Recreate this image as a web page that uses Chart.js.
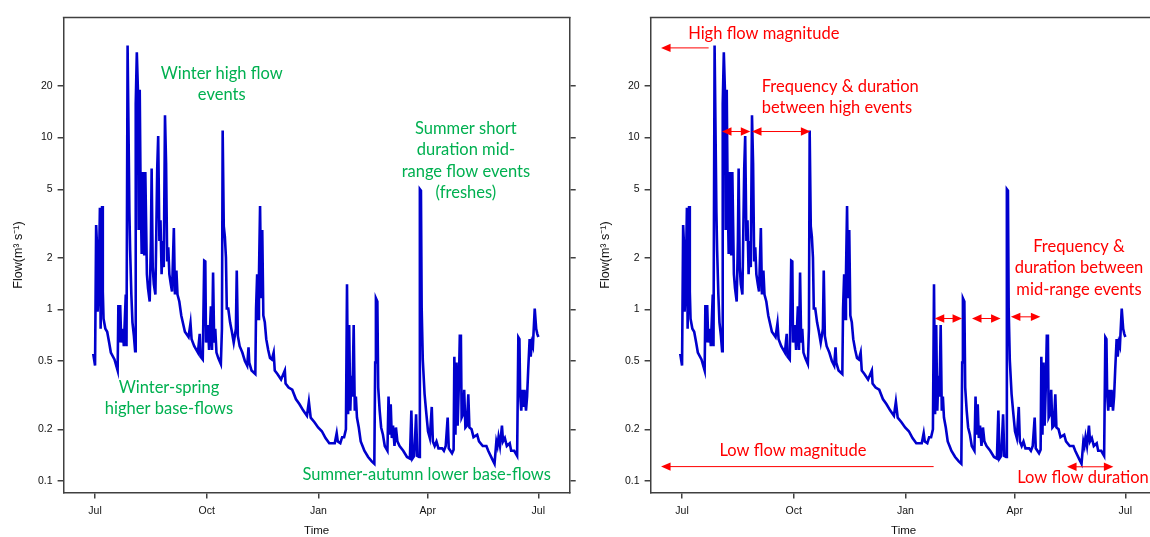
<!DOCTYPE html>
<html><head><meta charset="utf-8">
<script src="https://cdn.jsdelivr.net/npm/chart.js@4/dist/chart.umd.min.js"></script>
<style>
html,body{margin:0;padding:0;background:#fff;width:1150px;height:537px;overflow:hidden;}
.panel{position:absolute;top:0;width:580px;height:537px;}
#p1{left:0}
#p2{left:587px}
</style></head><body>
<div class="panel" id="p1"><canvas id="c1" width="580" height="537"></canvas></div>
<div class="panel" id="p2"><canvas id="c2" width="580" height="537"></canvas></div>
<script>
// Days since 1 July (x) and flow in m3/s (y)
const days = [-1.5,0,0.9,1.8,2.1,3,4,4.6,5.8,6.4,7,8.5,10,11.6,13,16,18.6,19.2,20.1,20.7,21.6,22.8,23.7,25.3,25.9,
26.8,27.7,28.3,28.9,29.9,30.8,32,33,33.5,34.4,35.3,35.9,36.8,37.5,38.4,39.3,40.5,41.4,42.7,43.6,45,46,46.6,47.5,48.4,49.7,
51.2,52,53,53.9,54.8,55.7,56.6,57.6,58.5,59.4,60.3,61.2,62.4,63.4,64.9,65.8,67,67.9,69.4,71,74,77,78.6,79.5,81.7,84.7,
86.2,86.8,88.7,89.9,90.8,91.4,93,93.9,95.4,96.3,97.2,98.1,99,100,101.5,103.6,104.5,105.1,106,106.9,107.8,108.5,109.7,
111.2,112.7,114.2,116,116.7,117.6,119.1,121.3,123.4,125.3,126.4,127,128.9,132,132.6,133.5,134.4,135,135.9,136.8,137.7,
138.6,139.8,141,142.6,144.1,145.6,147.1,148,150.2,153.2,156.3,156.9,159.4,162.4,165.4,168.4,171.5,174.5,176.1,177.6,
180.7,183.7,186.8,189.8,192.9,197.4,199,199.9,202,203.5,205.1,206.6,207.5,208.4,209.3,210.2,211.1,212,213,213.9,214.8,
215.7,217.2,218.8,220.3,221.8,224.9,227.9,230,230.7,231.3,232.5,233.2,234.4,235.6,237.1,238.6,240.8,241.7,242.6,243.5,
244.4,245.4,246.6,247.8,249,250.8,253.8,256.9,259.3,260.5,261.4,262.9,264.4,265.4,266.9,267.5,268.4,269,269.9,271.4,
272.6,274.2,275.7,277.3,278.2,279.7,281.2,282.8,285.8,287.3,288.8,290.4,291.3,294,295.3,295.9,296.8,297.7,298.6,299.5,
300.4,301.3,301.9,303.1,304,305,306.2,307.4,308.3,310.1,311.7,314.7,316.2,319.3,322.3,323.8,326.9,329,330.5,331.4,332.3,
333.5,335.1,336,337.5,339.1,341.5,342.7,345.2,347.6,348.6,349.5,350.1,351,351.9,352.8,353.7,354.9,355.8,356.7,357.9,
358.8,359.7,360.6,361.2,362.1,363.3,364.2,365.1];
const flow = [0.55,0.47,3.1,2.2,0.97,1.33,3.9,0.77,4.0,1.27,0.88,0.77,0.74,0.64,0.56,0.51,0.44,1.06,0.64,1.06,0.64,0.77,0.61,1.22,0.61,
34.4,9.1,3.65,2.2,1.22,0.84,0.70,0.57,15.8,31.4,19,2.9,19,5.0,2.1,6.3,2.06,6.3,1.6,1.33,1.11,2.5,6.6,1.76,1.4,1.22,
6.6,10.2,2.5,3.3,1.6,2.5,1.76,13.5,7.1,1.9,2.3,1.6,1.4,1.27,2.97,1.22,1.68,1.22,1.11,0.92,0.74,0.69,0.83,0.67,0.61,0.56,
0.72,0.53,0.51,1.92,1.9,0.64,0.81,0.58,1.04,0.58,1.64,0.64,0.77,0.56,0.52,0.48,0.77,11,3.05,2.65,2.0,1.01,1.01,
0.84,0.74,0.64,0.77,1.68,0.70,0.61,0.56,0.50,0.47,0.60,0.49,0.44,0.42,1.01,1.6,0.88,1.6,4.0,1.16,2.9,
0.92,0.84,0.67,0.58,0.52,0.51,0.56,0.44,0.42,0.39,0.44,0.37,0.35,0.34,0.30,0.28,0.257,0.24,0.29,0.234,
0.22,0.205,0.195,0.178,0.166,0.166,0.19,0.17,0.166,0.18,0.18,0.2,1.4,0.245,0.81,0.257,0.41,0.31,0.81,0.257,0.31,
0.234,0.205,0.17,0.16,0.15,0.138,0.13,0.126,0.49,1.16,1.11,0.35,0.257,0.205,0.186,0.16,0.15,0.31,0.186,0.28,
0.178,0.21,0.16,0.205,0.17,0.16,0.15,0.138,0.135,0.257,0.135,0.14,0.245,0.14,0.138,5.0,4.9,1.01,0.51,0.32,
0.257,0.195,0.178,0.27,0.17,0.16,0.17,0.155,0.155,0.15,0.16,0.234,0.155,0.145,0.152,0.53,0.186,0.49,0.21,0.34,
0.70,0.70,0.234,0.245,0.34,0.205,0.21,0.32,0.205,0.2,0.18,0.186,0.17,0.16,0.16,0.15,0.135,0.126,0.17,0.16,0.18,
0.16,0.21,0.17,0.178,0.16,0.166,0.15,0.15,0.14,0.687,0.67,0.32,0.257,0.34,0.27,0.34,0.257,0.31,0.44,0.67,
0.53,0.64,0.61,0.75,1.01,0.77,0.72,0.69];

const xTickDays = [0, 92, 184, 274, 365];
const xTickLabels = ['Jul', 'Oct', 'Jan', 'Apr', 'Jul'];
const yTickValues = [0.1, 0.2, 0.5, 1, 2, 5, 10, 20];
const yTickLabels = ['0.1', '0.2', '0.5', '1', '2', '5', '10', '20'];

const GREEN = '#00b050', RED = '#ff0000';
// annotations in data coordinates (day, flow)
const leftNotes = [
  {lines:['Winter high flow','events'], x:104.3, y:23.7, color:GREEN},
  {lines:['Winter-spring','higher base-flows'], x:60.9, y:0.351, color:GREEN},
  {lines:['Summer short','duration mid-','range flow events','(freshes)'], x:305.4, y:11.33, color:GREEN},
  {lines:['Summer-autumn lower base-flows'], x:273.1, y:0.1084, color:GREEN}
];
const rightNotes = [
  {lines:['High flow magnitude'], x:67.3, y:40.4, color:RED},
  {lines:['Frequency & duration','between high events'], x:65.6, y:19.9, color:RED, align:'left'},
  {lines:['Frequency &','duration between','mid-range events'], x:326.9, y:2.32, color:RED},
  {lines:['Low flow magnitude'], x:91.3, y:0.1495, color:RED},
  {lines:['Low flow duration'], x:330.2, y:0.1045, color:RED}
];
const rightArrows = [
  {x1:-17.3, x2:21.9, y:33.3, start:true, end:false},
  {x1:32.9, x2:56.2, y:10.85, start:true, end:true},
  {x1:57.6, x2:105.7, y:10.85, start:true, end:true},
  {x1:208.1, x2:230.6, y:0.884, start:true, end:true},
  {x1:238.8, x2:262.3, y:0.884, start:true, end:true},
  {x1:270.8, x2:295.1, y:0.904, start:true, end:true},
  {x1:-17.3, x2:207.2, y:0.1213, start:true, end:false},
  {x1:317.1, x2:355.2, y:0.121, start:true, end:true}
];

const FRAME = '#404040';
const NOTE_FONT = '16.5px Lato';
const NOTE_LH = 21.6;

function annotPlugin(notes, arrows) {
  return {
    id: 'annot',
    afterDraw(chart) {
      const {ctx, scales:{x, y}} = chart;
      ctx.save();
      const a = chart.chartArea;
      ctx.strokeStyle = FRAME; ctx.lineWidth = 1.5;
      ctx.beginPath(); ctx.moveTo(a.left - 0.75, a.top); ctx.lineTo(a.right + 0.75, a.top); ctx.stroke();
      ctx.font = NOTE_FONT;
      ctx.textBaseline = 'middle';
      notes.forEach(n => {
        const px = x.getPixelForValue(n.x), py = y.getPixelForValue(n.y);
        ctx.fillStyle = n.color;
        ctx.textAlign = n.align || 'center';
        n.lines.forEach((t, i) => ctx.fillText(t, px, py + i * NOTE_LH));
      });
      (arrows || []).forEach(ar => {
        const x1 = x.getPixelForValue(ar.x1), x2 = x.getPixelForValue(ar.x2), py = y.getPixelForValue(ar.y);
        ctx.strokeStyle = RED; ctx.fillStyle = RED; ctx.lineWidth = 1;
        ctx.beginPath(); ctx.moveTo(x1 + (ar.start ? 6 : 0), py); ctx.lineTo(x2 - (ar.end ? 6 : 0), py); ctx.stroke();
        const head = (tx, dir) => {
          ctx.beginPath(); ctx.moveTo(tx, py); ctx.lineTo(tx + dir * 9.5, py - 4.2); ctx.lineTo(tx + dir * 9.5, py + 4.2); ctx.closePath(); ctx.fill();
        };
        if (ar.start) head(x1, 1);
        if (ar.end) head(x2, -1);
      });
      ctx.restore();
    }
  };
}

function makeChart(id, notes, arrows) {
  const tickFont = {family:'Liberation Sans', size:10.5};
  new Chart(document.getElementById(id), {
    type: 'line',
    data: {
      datasets: [{
        data: days.map((d, i) => ({x: d, y: flow[i]})),
        borderColor: '#0000cd', borderWidth: 2.6, pointRadius: 0, tension: 0, fill: false,
        borderJoinStyle: 'miter'
      }]
    },
    options: {
      responsive: false, animation: false, devicePixelRatio: 1,
      layout: {padding: {top: 17.5, left: 0, right: 0, bottom: 0}},
      plugins: {legend: {display: false}, tooltip: {enabled: false}},
      scales: {
        x: {
          type: 'linear', position: 'bottom', min: -25.9, max: 390.9,
          afterBuildTicks: s => { s.ticks = xTickDays.map(v => ({value: v})); },
          afterFit: s => { s.height = 44.4; },
          ticks: {callback: (v, i) => xTickLabels[i], font: tickFont, color: '#111', padding: 6, maxRotation: 0, autoSkip: false},
          grid: {drawOnChartArea: false, drawTicks: true, tickLength: 6, color: FRAME, lineWidth: 1.5},
          border: {display: true, color: FRAME, width: 1.5},
          title: {display: true, text: 'Time', font: {family:'Liberation Sans', size: 11.5}, color: '#111', padding: {top: 0, bottom: -0.5}}
        },
        y: {
          type: 'logarithmic', position: 'left', min: 0.0856, max: 50.06,
          afterBuildTicks: s => { s.ticks = yTickValues.map(v => ({value: v})); },
          afterFit: s => { s.width = 63.6; },
          ticks: {callback: (v, i) => yTickLabels[i], font: tickFont, color: '#111', padding: 5, autoSkip: false},
          grid: {drawOnChartArea: false, drawTicks: true, tickLength: 6, color: FRAME, lineWidth: 1.5},
          border: {display: true, color: FRAME, width: 1.5},
          title: {display: true, text: 'Flow(m³ s⁻¹)', font: {family:'Liberation Sans', size: 12.5}, color: '#111', padding: {top: 11, bottom: 0}}
        },
        y2: {
          type: 'logarithmic', position: 'right', min: 0.0856, max: 50.06,
          afterBuildTicks: s => { s.ticks = yTickValues.map(v => ({value: v})); },
          afterFit: s => { s.width = 10.3; },
          ticks: {display: false},
          grid: {drawOnChartArea: false, drawTicks: true, tickLength: 6, color: FRAME, lineWidth: 1.5},
          border: {display: true, color: FRAME, width: 1.5}
        }
      }
    },
    plugins: [annotPlugin(notes, arrows)]
  });
}
makeChart('c1', leftNotes, null);
makeChart('c2', rightNotes, rightArrows);
</script>
</body></html>
